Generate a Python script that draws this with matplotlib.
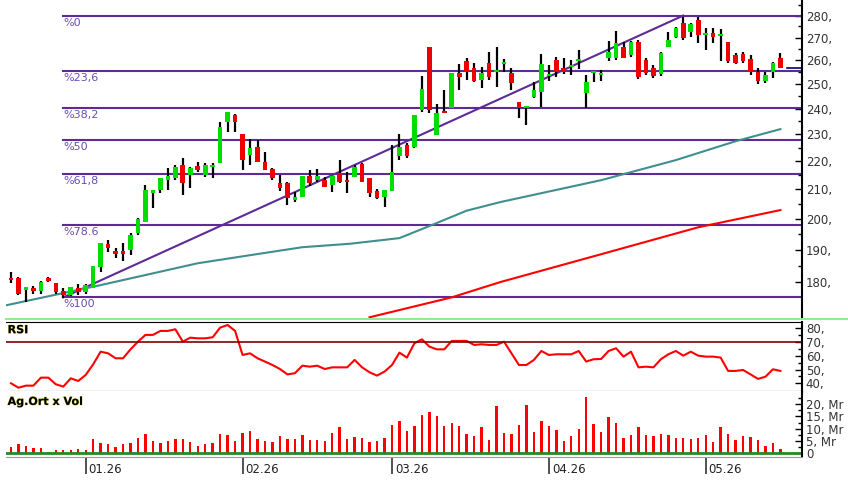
"""Mum grafiği: Fibonacci seviyeleri, hareketli ortalamalar, RSI ve hacim"""
import matplotlib
matplotlib.use("Agg")
from matplotlib import pyplot as plt
from matplotlib.lines import Line2D
from matplotlib.ticker import FixedLocator, FixedFormatter, NullFormatter
import matplotlib.patheffects as pe

# gunluk fiyatlar (acilis, yuksek, dusuk, kapanis)
opens = [181.4, 181.2, 177.7, 177.9, 177.5, 181.0, 179.7, 177.5, 176.2, 178.2,
         177.2, 178.2, 184.7, 191.7, 189.4, 189.4, 189.9, 195.3, 199.0, 208.6,
         209.8, 213.3, 213.9, 218.8, 215.0, 218.3, 215.0, 217.9, 219.2, 234.8,
         237.5, 230.3, 222.3, 225.4, 219.8, 217.0, 212.1, 212.1, 206.3, 207.4,
         214.7, 213.3, 213.3, 211.5, 215.6, 213.0, 214.4, 218.9, 213.9, 209.5,
         207.4, 209.5, 221.9, 226.0, 225.4, 239.5, 266.0, 229.7, 239.1, 240.2,
         254.5, 259.7, 256.8, 251.7, 258.7, 255.1, 258.6, 254.5, 242.8, 240.1,
         244.7, 246.7, 253.2, 260.1, 256.6, 257.1, 259.7, 246.2, 254.8, 253.8,
         260.8, 261.0, 266.0, 262.3, 268.2, 260.1, 256.8, 254.2, 266.0, 270.4,
         276.4, 272.6, 277.9, 271.1, 271.8, 270.9, 268.2, 262.1, 262.7, 260.6,
         255.0, 251.1, 255.2, 261.0]
highs = [183.2, 181.6, 178.7, 178.9, 180.4, 181.7, 179.8, 178.2, 178.5, 179.4,
         179.4, 185.0, 192.0, 193.1, 190.4, 192.0, 195.3, 200.2, 211.5, 209.8,
         213.9, 217.4, 218.6, 221.0, 218.0, 219.8, 219.2, 219.2, 234.8, 238.8,
         237.9, 230.3, 228.1, 227.8, 223.5, 217.4, 215.0, 212.7, 209.2, 214.7,
         216.8, 217.0, 214.2, 214.7, 220.4, 216.2, 218.6, 219.2, 213.9, 210.0,
         209.8, 226.0, 230.3, 226.6, 237.5, 253.4, 266.0, 241.9, 247.5, 254.5,
         258.3, 261.0, 258.8, 257.3, 263.8, 266.0, 260.4, 256.6, 242.8, 241.1,
         251.0, 262.7, 258.0, 261.5, 261.0, 260.1, 264.5, 253.8, 255.5, 256.0,
         268.6, 272.8, 268.2, 268.6, 268.9, 260.8, 258.0, 263.8, 272.7, 274.6,
         279.4, 276.4, 279.5, 274.1, 274.1, 273.8, 268.2, 263.0, 263.8, 262.3,
         256.6, 255.1, 259.4, 263.3]
lows = [179.7, 176.2, 174.3, 176.7, 176.7, 180.0, 176.7, 175.3, 176.0, 176.2,
        176.7, 178.2, 183.2, 189.4, 187.3, 186.5, 188.3, 194.7, 199.0, 203.5,
        208.6, 209.8, 213.3, 208.0, 210.3, 216.2, 214.4, 213.9, 219.2, 230.9,
        230.9, 216.8, 218.6, 219.8, 216.8, 213.3, 209.5, 204.6, 205.7, 207.2,
        211.2, 212.7, 210.7, 208.9, 212.1, 208.6, 214.2, 212.4, 207.4, 206.5,
        203.8, 209.5, 220.4, 221.3, 225.0, 238.8, 238.2, 229.7, 238.2, 240.2,
        247.5, 251.7, 250.9, 248.2, 251.7, 248.9, 255.0, 247.5, 236.2, 233.6,
        244.3, 240.8, 251.3, 253.1, 254.2, 253.8, 256.3, 240.2, 251.0, 251.4,
        259.7, 260.2, 260.8, 261.6, 252.1, 253.8, 252.5, 253.4, 266.0, 269.8,
        268.9, 270.3, 267.4, 264.5, 267.4, 259.5, 259.0, 258.4, 259.0, 253.8,
        250.0, 250.6, 252.3, 256.5]
closes = [180.6, 176.7, 178.0, 177.4, 180.2, 180.4, 177.2, 176.2, 178.5, 177.2,
          179.2, 185.0, 192.0, 190.6, 188.8, 188.8, 194.7, 199.8, 209.8, 209.8,
          213.9, 214.5, 218.0, 212.1, 217.6, 216.8, 218.6, 218.2, 232.9, 238.8,
          234.8, 220.4, 224.7, 219.8, 216.8, 213.9, 210.3, 206.9, 207.4, 214.7,
          212.1, 214.7, 210.9, 214.7, 212.7, 212.4, 218.0, 212.7, 208.6, 206.9,
          209.8, 216.2, 225.4, 221.9, 237.5, 247.8, 239.5, 238.2, 238.3, 254.5,
          252.8, 255.1, 251.3, 254.5, 253.1, 255.3, 259.3, 250.3, 240.2, 240.5,
          247.5, 258.4, 253.6, 255.2, 255.1, 257.6, 260.1, 251.0, 255.3, 254.6,
          263.6, 267.6, 261.0, 268.2, 252.9, 254.5, 253.2, 263.2, 268.9, 274.1,
          269.7, 276.1, 271.1, 271.5, 270.3, 271.3, 259.5, 258.8, 259.5, 255.0,
          251.1, 253.6, 258.7, 256.8]

# hacim (milyon)
volume = [2.4, 3.7, 3.1, 2.0, 2.0, 0.5, 1.2, 1.5, 1.5, 1.8,
          1.5, 5.8, 4.2, 3.7, 2.4, 3.7, 4.2, 6.2, 8.0, 5.0,
          4.2, 5.0, 5.8, 5.8, 4.6, 3.1, 3.7, 4.1, 7.7, 7.3,
          5.0, 8.3, 9.1, 5.8, 5.0, 4.6, 6.9, 5.8, 5.8, 7.3,
          5.6, 5.3, 5.0, 8.3, 10.7, 6.0, 6.5, 6.2, 4.6, 4.9,
          6.2, 11.5, 13.1, 9.1, 11.1, 15.6, 16.8, 15.2, 11.1, 12.5,
          11.1, 7.7, 6.9, 10.7, 5.6, 19.2, 8.3, 8.0, 11.4, 19.6,
          8.7, 13.1, 11.1, 9.3, 4.9, 6.9, 9.9, 23.0, 12.1, 8.7,
          14.8, 12.3, 6.1, 7.3, 10.7, 7.3, 6.9, 8.0, 7.3, 6.2,
          6.2, 5.7, 6.2, 7.3, 4.6, 10.7, 7.7, 5.3, 6.9, 6.6,
          5.3, 3.0, 4.2, 1.8]

rsi = [40.0, 36.8, 38.3, 38.3, 44.1, 44.1, 39.3, 37.6, 43.6, 41.7,
       46.1, 53.8, 63.0, 61.8, 58.2, 58.2, 64.7, 70.3, 75.2, 75.2,
       78.1, 78.1, 79.3, 70.3, 73.2, 72.7, 72.7, 73.5, 80.5, 82.4,
       78.1, 60.6, 61.8, 58.2, 55.8, 53.3, 50.4, 46.5, 47.3, 52.8,
       52.1, 52.8, 50.4, 51.6, 51.6, 51.6, 57.0, 51.6, 48.0, 45.6,
       48.5, 53.3, 62.3, 58.7, 69.1, 72.0, 66.7, 64.7, 64.7, 70.8,
       70.8, 70.8, 67.9, 68.4, 67.9, 67.9, 70.3, 61.8, 53.3, 53.3,
       57.0, 63.5, 60.6, 61.1, 61.1, 61.1, 63.5, 55.8, 57.5, 57.7,
       63.5, 65.5, 59.4, 63.0, 51.6, 52.1, 51.6, 57.5, 61.1, 63.5,
       60.1, 63.0, 60.1, 59.4, 59.4, 58.7, 49.0, 49.0, 49.7, 46.5,
       43.2, 44.8, 50.2, 49.0]

# hareketli ortalamalar (okunan noktalar)
ma_short_pos = [-0.67, 12, 25, 32, 39, 45.4, 52, 56, 61, 65.5, 79, 89, 97, 103]
ma_short = [173.3, 179.2, 185.8, 188.3, 190.8, 191.9, 193.7, 197.6, 202.7, 205.6,
            213.2, 220.4, 227.4, 232.0]
ma_long_pos = [48, 59, 65.5, 79, 92, 103]
ma_long = [169.9, 175.6, 180.1, 188.6, 197.2, 202.9]

# Fibonacci
fib_high, fib_low = 280.0, 175.6
fib_levels = [0, 23.6, 38.2, 50, 61.8, 78.6, 100]
fib_labels = ["%0", "%23,6", "%38,2", "%50", "%61,8", "%78.6", "%100"]
fib_start, fib_end = 7, 90

price_ticks = [180, 190, 200, 210, 220, 230, 240, 250, 260, 270, 280]
rsi_ticks = [40, 50, 60, 70, 80]
vol_ticks = [0, 5, 10, 15, 20]
month_pos = [10, 31, 51, 72, 93]
month_labels = ["01.26", "02.26", "03.26", "04.26", "05.26"]

W, H = 848, 483
XMIN, XMAX = -0.67, 105.85
purple = "#5e2a96"
days = list(range(len(closes)))

fig = plt.figure(figsize=(W / 100, H / 100), dpi=100)


def box(top, bottom):
    # panel konumu piksel satirlarindan
    return [6 / W, 1 - bottom / H, (801.7 - 6) / W, (bottom - top) / H]


ax = fig.add_axes(box(0, 318))
ax_rsi = fig.add_axes(box(321.7, 391))
ax_vol = fig.add_axes(box(391, 456.7))

# --- fiyat paneli ---
ax.set_yscale("log")
fib_prices = [fib_high - lv / 100 * (fib_high - fib_low) for lv in fib_levels]
for p, lab in zip(fib_prices, fib_labels):
    ax.plot([fib_start, XMAX], [p, p], color=purple, lw=1.5, zorder=2)
    ax.annotate(lab, (fib_start, p), xytext=(0, -1.5), textcoords="offset points",
                va="top", ha="left", fontsize=8, color="#6a4bb5")
ax.plot([fib_start, fib_end], [fib_low, fib_high], color=purple, lw=1.5, zorder=2)
ax.plot(ma_short_pos, ma_short, color="#3f8f8f", lw=1.5, zorder=2)
ax.plot(ma_long_pos, ma_long, color="#ff0000", lw=1.5, zorder=2)

colors = ["#00dd00" if c >= o else "#ee0000" for o, c in zip(opens, closes)]
bottoms = [min(o, c) for o, c in zip(opens, closes)]
heights = [max(abs(c - o), 0.8) for o, c in zip(opens, closes)]
ax.vlines(days, lows, highs, color="black", lw=1.6, zorder=3)
ax.bar(days, heights, bottom=bottoms, width=0.62, color=colors, zorder=4)
ax.plot([days[-1] + 0.9, XMAX], [closes[-1], closes[-1]], color="#000080", lw=1.2)

ax.set_xlim(XMIN, XMAX)
ax.set_ylim(169.7, 287.3)
ax.set_xticks([])
ax.yaxis.tick_right()
ax.yaxis.set_major_locator(FixedLocator(price_ticks))
ax.yaxis.set_major_formatter(FixedFormatter([f"{t}," for t in price_ticks]))
ax.yaxis.set_minor_locator(FixedLocator([t + 5 for t in price_ticks]))
ax.yaxis.set_minor_formatter(NullFormatter())

# --- RSI ---
ax_rsi.plot(days, rsi, color="#ff0000", lw=1.5)
ax_rsi.axhline(70, color="#800000", lw=1.2)
ax_rsi.set_xlim(XMIN, XMAX)
ax_rsi.set_ylim(34.4, 84.8)
ax_rsi.set_xticks([])
ax_rsi.yaxis.tick_right()
ax_rsi.yaxis.set_major_locator(FixedLocator(rsi_ticks))
ax_rsi.yaxis.set_major_formatter(FixedFormatter([f"{t}," for t in rsi_ticks]))
ax_rsi.yaxis.set_minor_locator(FixedLocator([t + 5 for t in rsi_ticks[:-1]]))

# --- hacim ---
ax_vol.bar(days, volume, width=0.32, color="#ff0000")
ax_vol.axhline(0, color="#228b22", lw=2)
ax_vol.set_xlim(XMIN, XMAX)
ax_vol.set_ylim(-1.38, 25.3)
ax_vol.yaxis.tick_right()
ax_vol.yaxis.set_major_locator(FixedLocator(vol_ticks))
ax_vol.yaxis.set_major_formatter(FixedFormatter(["0"] + [f"{t}, Mr" for t in vol_ticks[1:]]))
ax_vol.yaxis.set_minor_locator(FixedLocator([t + 2.5 for t in vol_ticks]))
ax_vol.set_xticks(month_pos)
ax_vol.set_xticklabels([])
ax_vol.tick_params(axis="x", direction="out", length=12, width=1.2, color="#333333")
for pos, lab in zip(month_pos, month_labels):
    ax_vol.text(pos + 0.4, -0.2, lab, transform=ax_vol.get_xaxis_transform(),
                ha="left", va="center", fontsize=8.5, color="#222222")

for a in (ax, ax_rsi, ax_vol):
    a.tick_params(axis="y", which="major", direction="in", length=5, width=1,
                  pad=3, labelsize=8.5, labelcolor="#333333")
    a.tick_params(axis="y", which="minor", direction="in", length=3, width=1)
    for s in ("left", "top", "bottom"):
        a.spines[s].set_visible(False)
    a.spines["right"].set_linewidth(1.5)

ax_rsi.spines["top"].set_visible(True)
ax_rsi.spines["bottom"].set_visible(True)
ax_vol.spines["bottom"].set_visible(True)
ax_vol.spines["bottom"].set_color("#9a9a9a")

glow = [pe.withStroke(linewidth=0.6, foreground="#d8d050")]
ax_rsi.text(0.002, 0.95, "RSI", transform=ax_rsi.transAxes, ha="left", va="top",
            fontsize=8, fontweight="bold", path_effects=glow)
ax_vol.text(0.002, 0.91, "Ag.Ort x Vol", transform=ax_vol.transAxes, ha="left", va="top",
            fontsize=8, fontweight="bold", path_effects=glow)

# panel ayirici yesil cizgi
fig.add_artist(Line2D([6 / W, 1], [1 - 318.5 / H] * 2, color="#90ee90", lw=1.5))

fig.savefig("out.png", dpi=100)
